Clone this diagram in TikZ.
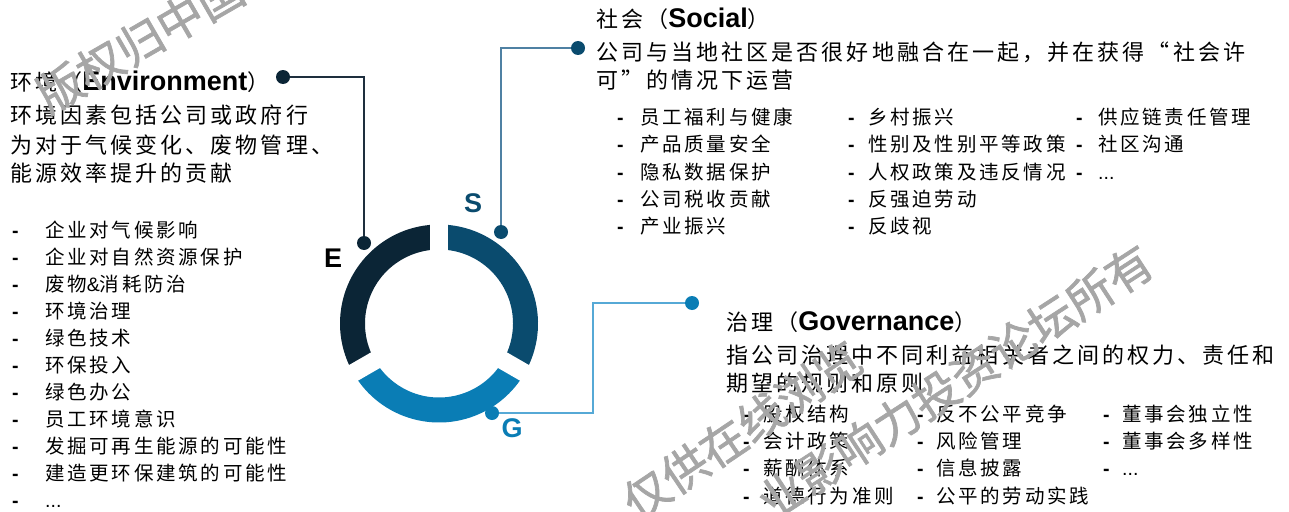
\documentclass[tikz,border=0pt]{standalone}
\usepackage{fontspec}
\setmainfont{Liberation Sans}
\newfontfamily\cjk{Noto Sans CJK SC}[LetterSpace=14]
\newfontfamily\wmk{Noto Sans CJK SC}[FakeBold=1.5]
\definecolor{ecol}{HTML}{0B2536}
\definecolor{scol}{HTML}{0A4B6E}
\definecolor{gcol}{HTML}{0A7DB5}
\definecolor{eline}{HTML}{1E2F3E}
\definecolor{sline}{HTML}{4F81A3}
\definecolor{gline}{HTML}{56A9D6}
\tikzset{
  desc/.style={anchor=west, inner sep=0pt, font=\cjk\fontsize{22}{26}\selectfont, text height=19pt, text depth=3pt},
  lst/.style={anchor=west, inner sep=0pt, font=\cjk\fontsize{19.5}{22}\selectfont, text height=17pt, text depth=2.5pt},
  dot/.style={circle, inner sep=0pt, minimum size=14pt},
  letter/.style={inner sep=0pt, font=\bfseries\fontsize{27}{30}\selectfont},
  conn/.style={line width=1.6pt},
  wm/.style={inner sep=0pt, font=\wmk\fontsize{46}{50}\selectfont, text=gray!70},
}
\newcommand\lat[1]{{\rmfamily\bfseries\fontsize{27}{30}\selectfont #1}}
\newcommand\esgitem[4]{\node[lst] (#1) at (#2) {\makebox[#3pt][l]{\rmfamily\bfseries -}#4};}
\begin{document}
\begin{tikzpicture}[x=1pt, y=-1pt]
\useasboundingbox (0,0) rectangle (1289,511);

% ring
\begin{scope}[shift={(439,323.5)}, yscale=-1]
  \fill[ecol] (90:99) arc[start angle=90, end angle=210, radius=99] -- (210:74) arc[start angle=210, end angle=90, radius=74] -- cycle;
  \fill[scol] (-30:99) arc[start angle=-30, end angle=90, radius=99] -- (90:74) arc[start angle=90, end angle=-30, radius=74] -- cycle;
  \fill[gcol] (210:99) arc[start angle=210, end angle=330, radius=99] -- (330:74) arc[start angle=330, end angle=210, radius=74] -- cycle;
  \foreach \a in {90,210,330} \draw[white, line width=18pt] (0,0) -- (\a:106);
\end{scope}

% Environment
\node[dot, fill=ecol] (eD1) at (283,77) {};
\node[dot, fill=ecol] (eD2) at (364,243) {};
\draw[eline, conn] (eD1) -| (eD2);
\node[letter] (eL) at (333,258) {E};
\node[desc] (eH) at (10,82) {环境（\lat{Environment}）};
\node[desc] (eT1) at (10,115) {环境因素包括公司或政府行};
\node[desc] (eT2) at (10,145) {为对于气候变化、废物管理、};
\node[desc] (eT3) at (10,173) {能源效率提升的贡献};
\esgitem{e1}{12,230}{33}{企业对气候影响}
\esgitem{e2}{12,257}{33}{企业对自然资源保护}
\esgitem{e3}{12,284}{33}{废物{\rmfamily\&}消耗防治}
\esgitem{e4}{12,311}{33}{环境治理}
\esgitem{e5}{12,338}{33}{绿色技术}
\esgitem{e6}{12,365}{33}{环保投入}
\esgitem{e7}{12,392}{33}{绿色办公}
\esgitem{e8}{12,419}{33}{员工环境意识}
\esgitem{e9}{12,446}{33}{发掘可再生能源的可能性}
\esgitem{e10}{12,473}{33}{建造更环保建筑的可能性}
\esgitem{e11}{12,500}{33}{{\rmfamily ...}}

% Social
\node[dot, fill=scol] (sD1) at (578,48) {};
\node[dot, fill=scol] (sD2) at (501,232) {};
\draw[sline, conn] (sD2) |- (sD1);
\node[letter, text=scol] (sL) at (473,203) {S};
\node[desc] (sH) at (596,20) {社会（\lat{Social}）};
\node[desc] (sT1) at (596,52) {公司与当地社区是否很好地融合在一起，并在获得“社会许};
\node[desc] (sT2) at (596,80) {可”的情况下运营};
\esgitem{s1}{617,117}{23}{员工福利与健康}
\esgitem{s2}{617,144}{23}{产品质量安全}
\esgitem{s3}{617,172}{23}{隐私数据保护}
\esgitem{s4}{617,199}{23}{公司税收贡献}
\esgitem{s5}{617,226}{23}{产业振兴}
\esgitem{s6}{848,117}{20}{乡村振兴}
\esgitem{s7}{848,144}{20}{性别及性别平等政策}
\esgitem{s8}{848,172}{20}{人权政策及违反情况}
\esgitem{s9}{848,199}{20}{反强迫劳动}
\esgitem{s10}{848,226}{20}{反歧视}
\esgitem{s11}{1076,117}{22}{供应链责任管理}
\esgitem{s12}{1076,144}{22}{社区沟通}
\esgitem{s13}{1076,172}{22}{{\rmfamily ...}}

% Governance
\node[dot, fill=gcol] (gD1) at (692,303) {};
\node[dot, fill=gcol] (gD2) at (492,413) {};
\coordinate (gB) at (593,303);
\draw[gline, conn] (gD2) -| (gB) -- (gD1);
\node[letter, text=gcol] (gL) at (512,428) {G};
\node[desc] (gH) at (726,322) {治理（\lat{Governance}）};
\node[desc] (gT1) at (726,355) {指公司治理中不同利益相关者之间的权力、责任和};
\node[desc] (gT2) at (726,383) {期望的规则和原则};
\esgitem{g1}{743,414}{20}{股权结构}
\esgitem{g2}{743,441}{20}{会计政策}
\esgitem{g3}{743,468}{20}{薪酬体系}
\esgitem{g4}{743,496}{20}{道德行为准则}
\esgitem{g5}{917,414}{19}{反不公平竞争}
\esgitem{g6}{917,441}{19}{风险管理}
\esgitem{g7}{917,468}{19}{信息披露}
\esgitem{g8}{917,496}{19}{公平的劳动实践}
\esgitem{g9}{1103,414}{19}{董事会独立性}
\esgitem{g10}{1103,441}{19}{董事会多样性}
\esgitem{g11}{1103,468}{19}{{\rmfamily ...}}

% watermark
\node[wm, rotate=30] (w1) at (140,42) {版权归中国};
\node[wm, rotate=34] (w2) at (742,430) {仅供在线浏览};
\node[wm, rotate=33] (w3) at (955,382) {业影响力投资论坛所有};
\end{tikzpicture}
\end{document}
